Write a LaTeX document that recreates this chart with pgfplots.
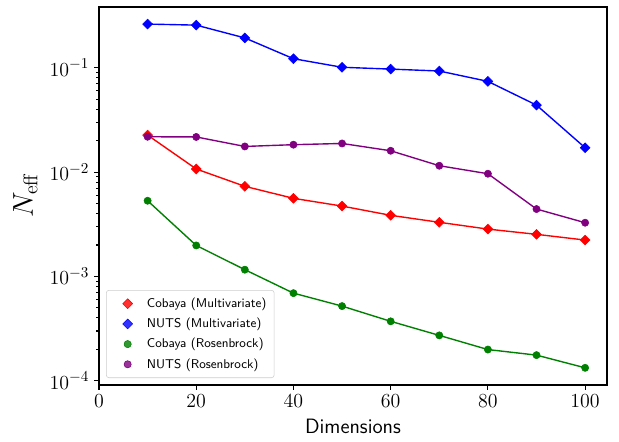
\documentclass[border=0pt]{standalone}
\usepackage{pgfplots}
\pgfplotsset{compat=1.18}
\definecolor{mgreen}{rgb}{0,0.5,0}
\definecolor{mpurple}{rgb}{0.5,0,0.5}
\begin{document}
\begin{tikzpicture}
\begin{axis}[
  scale only axis,
  width=365.76bp, height=272.16bp,
  ymode=log,
  xmin=0, xmax=104.5,
  ymin=9.1e-5, ymax=0.382,
  xtick={0,20,40,60,80,100},
  ytick={1e-4,1e-3,1e-2,1e-1},
  tick align=outside,
  tick pos=left,
  major tick length=3.5bp,
  minor tick length=2bp,
  every tick/.style={black, line width=0.8bp},
  axis line style={line width=0.8bp},
  tick label style={font=\fontsize{15}{18}\selectfont},
  xlabel={\sffamily Dimensions},
  ylabel={$N_{\rm eff}$},
  xlabel style={font=\fontsize{15}{18}\selectfont, at={(axis description cs:0.5,-0.127)}, anchor=base},
  ylabel style={font=\fontsize{20}{24}\selectfont, at={(axis description cs:-0.130,0.503)}, anchor=base, rotate=0},
  legend style={at={(axis description cs:0.0138,0.0185)}, anchor=south west,
    font=\sffamily\fontsize{9.2}{11}\selectfont, draw=black!20, rounded corners=2pt,
    fill=white, fill opacity=0.8, text opacity=1, row sep=2.2pt, inner sep=3.5pt},
  legend cell align=left,
  legend image code/.code={\path[draw=none,fill=none] (0cm,0cm) -- (0.84cm,0cm);
    \draw[#1, only marks, mark repeat=2, mark phase=2] plot coordinates {(0cm,0cm)(0.42cm,0cm)(0.84cm,0cm)};},
]
% lines
\addplot[red, line width=1bp, forget plot] coordinates {(10,0.0226)(20,0.0107)(30,0.00730)(40,0.00560)(50,0.00472)(60,0.00385)(70,0.00330)(80,0.00284)(90,0.00253)(100,0.00223)};
\addplot[blue, line width=1bp, forget plot] coordinates {(10,0.262)(20,0.256)(30,0.193)(40,0.122)(50,0.101)(60,0.097)(70,0.093)(80,0.074)(90,0.0438)(100,0.0171)};
\addplot[mgreen, line width=1bp, forget plot] coordinates {(10,0.00531)(20,0.00198)(30,0.00116)(40,0.000691)(50,0.000519)(60,0.000371)(70,0.000272)(80,0.000199)(90,0.000176)(100,0.000133)};
\addplot[mpurple, line width=1bp, forget plot] coordinates {(10,0.0218)(20,0.0217)(30,0.0176)(40,0.0183)(50,0.0188)(60,0.0160)(70,0.0115)(80,0.00964)(90,0.00442)(100,0.00327)};
% markers
\addplot[only marks, mark=square*, mark size=2.5bp, mark options={rotate=45}, color=red] coordinates {(10,0.0226)(20,0.0107)(30,0.00730)(40,0.00560)(50,0.00472)(60,0.00385)(70,0.00330)(80,0.00284)(90,0.00253)(100,0.00223)};
\addlegendentry{Cobaya (Multivariate)}
\addplot[only marks, mark=square*, mark size=2.5bp, mark options={rotate=45}, color=blue] coordinates {(10,0.262)(20,0.256)(30,0.193)(40,0.122)(50,0.101)(60,0.097)(70,0.093)(80,0.074)(90,0.0438)(100,0.0171)};
\addlegendentry{NUTS (Multivariate)}
\addplot[only marks, mark=*, mark size=2.6bp, color=mgreen] coordinates {(10,0.00531)(20,0.00198)(30,0.00116)(40,0.000691)(50,0.000519)(60,0.000371)(70,0.000272)(80,0.000199)(90,0.000176)(100,0.000133)};
\addlegendentry{Cobaya (Rosenbrock)}
\addplot[only marks, mark=*, mark size=2.6bp, color=mpurple] coordinates {(10,0.0218)(20,0.0217)(30,0.0176)(40,0.0183)(50,0.0188)(60,0.0160)(70,0.0115)(80,0.00964)(90,0.00442)(100,0.00327)};
\addlegendentry{NUTS (Rosenbrock)}
\end{axis}
\pgfresetboundingbox
\path[use as bounding box] ([shift={(-71.28bp,-41.04bp)}]current axis.south west) rectangle ([shift={(8.64bp,5.04bp)}]current axis.north east);
\end{tikzpicture}
\end{document}
